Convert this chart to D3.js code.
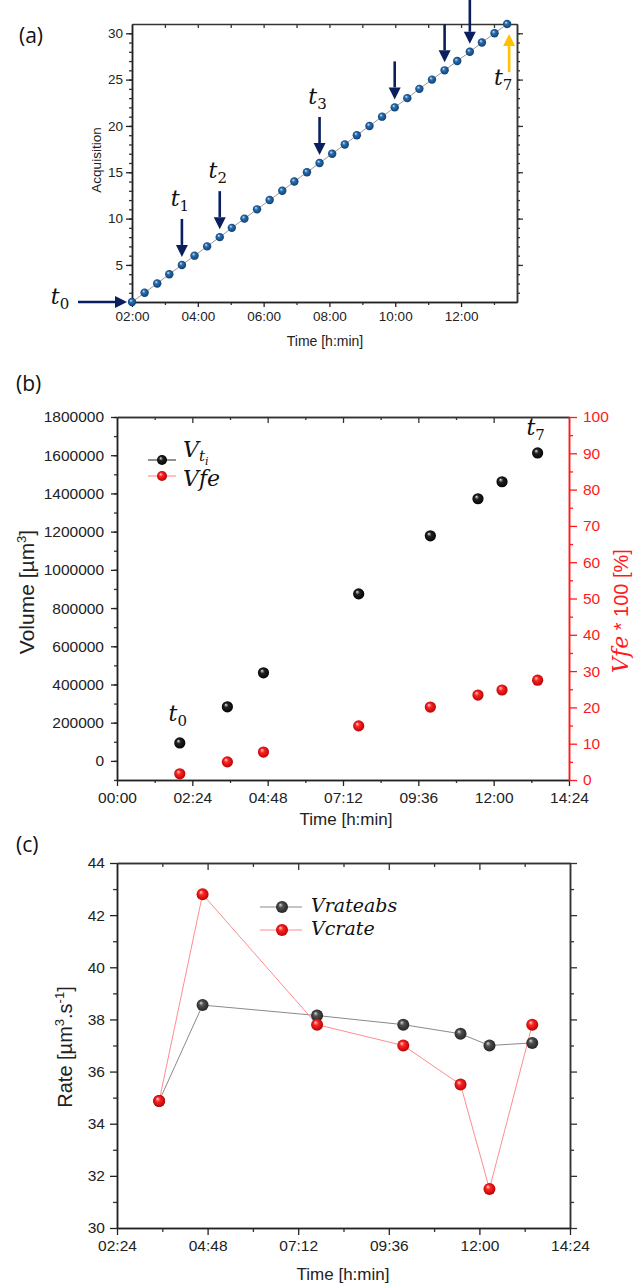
<!DOCTYPE html>
<html><head><meta charset="utf-8">
<script src="https://cdn.jsdelivr.net/npm/d3@7"></script>
<style>body{margin:0;background:#fff}svg text{font-family:"Liberation Sans",Arial,sans-serif}svg .m{font-family:"DejaVu Serif",serif;font-style:italic}</style>
</head><body><svg id="c" width="636" height="1285"></svg>
<script>
// ---------- DATA ----------
const acqTimes = ["02:00","02:23","02:46","03:08","03:31","03:54","04:17","04:40","05:02","05:25",
  "05:48","06:11","06:34","06:56","07:19","07:42","08:05","08:28","08:50","09:13",
  "09:36","09:59","10:22","10:44","11:07","11:30","11:53","12:16","12:38","13:01","13:24"];
const acqValues = [1,2,3,4,5,6,7,8,9,10,11,12,13,14,15,16,17,18,19,20,21,22,23,24,25,26,27,28,29,30,31];
const xTicksA = ["02:00","04:00","06:00","08:00","10:00","12:00"];
const yTicksA = [5,10,15,20,25,30];

const volTimes = ["02:00","03:31","04:40","07:42","09:59","11:30","12:16","13:24"];
const volValues = [94000,283000,461000,874000,1178000,1372000,1461000,1612000];
const vfeValues = [1.7,5.0,7.7,14.9,20.1,23.4,24.8,27.5];
const xTicksB = ["00:00","02:24","04:48","07:12","09:36","12:00","14:24"];
const yTicksB = [0,200000,400000,600000,800000,1000000,1200000,1400000,1600000,1800000];
const yTicksBR = [0,10,20,30,40,50,60,70,80,90,100];

const rateTimes = ["03:31","04:40","07:42","09:59","11:30","12:16","13:24"];
const vrateabs = [34.87,38.55,38.15,37.8,37.45,37.0,37.1];
const vcrate = [34.87,42.8,37.8,37.0,35.5,31.5,37.8];
const xTicksC = ["02:24","04:48","07:12","09:36","12:00","14:24"];
const yTicksC = [30,32,34,36,38,40,42,44];

// ---------- HELPERS ----------
const tm = s => { const [h,m] = s.split(":").map(Number); return h*60+m; };
const fmt = v => { const h = Math.floor(v/60), m = Math.round(v%60); return String(h).padStart(2,"0")+":"+String(m).padStart(2,"0"); };
const svg = d3.select("#c");
const defs = svg.append("defs");
function grad(id, hi, base, dark){
  const g = defs.append("radialGradient").attr("id",id).attr("cx","50%").attr("cy","50%").attr("r","55%").attr("fx","35%").attr("fy","30%");
  g.append("stop").attr("offset","0%").attr("stop-color",hi);
  g.append("stop").attr("offset","35%").attr("stop-color",base);
  g.append("stop").attr("offset","100%").attr("stop-color",dark);
}
grad("gBlue","#d6ebff","#2a6fb0","#0b3a6a");
grad("gBlack","#e8e8e8","#222","#000");
grad("gRed","#ffd6d6","#ff2424","#b00000");
grad("gGray","#d8d8d8","#505050","#202020");

function axis(gen, tx, ty, color, fs){
  const a = svg.append("g").attr("transform",`translate(${tx},${ty})`).call(gen);
  a.select(".domain").attr("stroke",color).attr("stroke-width",1.5);
  a.selectAll(".tick line").attr("stroke",color).attr("stroke-width",1.3);
  a.selectAll(".tick text").attr("fill",color).attr("font-size",fs);
  return a;
}
function arrow(x1,y1,x2,y2,color){
  const ang = Math.atan2(y2-y1,x2-x1), hl = 12, hw = 6;
  const bx = x2 - hl*Math.cos(ang), by = y2 - hl*Math.sin(ang);
  svg.append("line").attr("x1",x1).attr("y1",y1).attr("x2",bx).attr("y2",by).attr("stroke",color).attr("stroke-width",2.6);
  svg.append("path").attr("d",`M${x2},${y2}L${bx+hw*Math.sin(ang)},${by-hw*Math.cos(ang)}L${bx-hw*Math.sin(ang)},${by+hw*Math.cos(ang)}Z`).attr("fill",color);
}
function tlabel(x,y,sub){
  const t = svg.append("text").attr("class","m").attr("x",x).attr("y",y).attr("text-anchor","middle").attr("fill","#111").attr("font-size",22);
  t.append("tspan").text("t");
  t.append("tspan").attr("font-size",15).attr("dy",5).style("font-style","normal").text(sub);
}
function panelLabel(x,y,s){
  svg.append("text").attr("x",x).attr("y",y).attr("font-size",21).style("font-family","Open Sans, sans-serif").attr("fill","#111").text(s);
}
const AX = "#333";

// ---------- PANEL A ----------
panelLabel(19,43,"(a)");
const xA = d3.scaleLinear().domain([120,822]).range([132,517]);
const yA = d3.scaleLinear().domain([1,31]).range([302,24]);
axis(d3.axisTop(xA).tickValues(d3.range(180,822,60)).tickSize(-4).tickSizeOuter(0).tickFormat(""),0,24,AX,0);
axis(d3.axisRight(yA).tickValues(d3.range(2,31,1)).tickSize(3).tickSizeOuter(0).tickFormat(""),517,0,AX,0);
axis(d3.axisRight(yA).tickValues(yTicksA).tickSize(6).tickSizeOuter(0).tickFormat(""),517,0,AX,0);
axis(d3.axisBottom(xA).tickValues(d3.range(180,822,120)).tickSize(3).tickSizeOuter(0).tickFormat(""),0,302,AX,0);
axis(d3.axisBottom(xA).tickValues(xTicksA.map(tm)).tickSize(5).tickPadding(4).tickSizeOuter(0).tickFormat(fmt),0,302,"#222",13.5);
axis(d3.axisLeft(yA).tickValues(d3.range(2,31,1)).tickSize(3).tickSizeOuter(0).tickFormat(""),132,0,AX,0);
axis(d3.axisLeft(yA).tickValues(yTicksA).tickSize(6).tickPadding(3).tickSizeOuter(0),132,0,"#222",13.5);
svg.append("text").attr("transform","translate(101,160) rotate(-90)").attr("text-anchor","middle").attr("font-size",13.5).attr("fill","#222").text("Acquisition");
svg.append("text").attr("x",325).attr("y",346).attr("text-anchor","middle").attr("font-size",14).attr("fill","#222").text("Time [h:min]");
const ptsA = acqTimes.map((t,i)=>[xA(tm(t)), yA(acqValues[i])]);
svg.append("path").attr("d",d3.line()(ptsA)).attr("fill","none").attr("stroke","#9a9a9a").attr("stroke-width",1);
svg.selectAll(".pa").data(ptsA).join("circle").attr("cx",d=>d[0]).attr("cy",d=>d[1]).attr("r",4.2).attr("fill","url(#gBlue)");
// arrows
const NAVY = "#0b1f5e";
const arrowsA = [{i:4,lab:"1"},{i:7,lab:"2"},{i:15,lab:"3"},{i:21},{i:25},{i:27,len:46}];
arrowsA.forEach(a=>{
  const [px,py] = ptsA[a.i]; const len = a.len||38;
  arrow(px, py-8-len, px, py-8, NAVY);
  if(a.lab) tlabel(px-2, py-8-len-13, a.lab);
});
arrow(78, ptsA[0][1], ptsA[0][0]-5, ptsA[0][1], NAVY);
tlabel(60, ptsA[0][1]+2, "0");
{ const [px,py] = ptsA[30]; arrow(px+2, py+48, px+2, py+10, "#ffc000"); tlabel(px-4, py+61, "7"); }

// ---------- PANEL B ----------
panelLabel(16,391,"(b)");
const xB = d3.scaleLinear().domain([0,864]).range([117,569]);
const yB = d3.scaleLinear().domain([-100000,1800000]).range([780,417]);
const yBR = d3.scaleLinear().domain([0,100]).range([780,417]);
const RED = "#ff1a1a";
axis(d3.axisTop(xB).tickValues(d3.range(72,864,144)).tickSize(-3).tickSizeOuter(0).tickFormat(""),0,417,AX,0);
axis(d3.axisTop(xB).tickValues(d3.range(144,864,144)).tickSize(-6).tickSizeOuter(0).tickFormat(""),0,417,AX,0);
axis(d3.axisBottom(xB).tickValues(d3.range(72,864,144)).tickSize(3).tickSizeOuter(0).tickFormat(""),0,780,AX,0);
axis(d3.axisBottom(xB).tickValues(xTicksB.map(tm)).tickSize(6).tickPadding(6).tickSizeOuter(0).tickFormat(fmt),0,780,"#222",15.5);
axis(d3.axisLeft(yB).tickValues(d3.range(-100000,1800001,100000)).tickSize(3).tickSizeOuter(0).tickFormat(""),117,0,AX,0);
axis(d3.axisLeft(yB).tickValues(yTicksB).tickSize(6).tickPadding(7).tickSizeOuter(0).tickFormat(d3.format("d")),117,0,"#222",15.5);
axis(d3.axisRight(yBR).tickValues(d3.range(5,100,10)).tickSize(4).tickSizeOuter(0).tickFormat(""),569,0,RED,0);
axis(d3.axisRight(yBR).tickValues(yTicksBR).tickSize(8).tickPadding(6).tickSizeOuter(0),569,0,RED,15.5);
{
  const t = svg.append("text").attr("transform","translate(34,592) rotate(-90)").attr("text-anchor","middle").attr("font-size",21).attr("fill","#222");
  t.append("tspan").text("Volume [µm");
  t.append("tspan").attr("font-size",13).attr("dy",-8).text("3");
  t.append("tspan").attr("dy",8).text("]");
  const r = svg.append("text").attr("transform","translate(628,611) rotate(-90)").attr("text-anchor","middle").attr("font-size",20).attr("fill",RED);
  r.append("tspan").attr("class","m").attr("font-size",22).text("Vfe");
  r.append("tspan").text(" * 100 [%]");
}
svg.append("text").attr("x",346).attr("y",825).attr("text-anchor","middle").attr("font-size",17).attr("fill","#222").text("Time [h:min]");
svg.selectAll(".pb1").data(volTimes).join("circle").attr("cx",d=>xB(tm(d))).attr("cy",(d,i)=>yB(volValues[i])).attr("r",5.6).attr("fill","url(#gBlack)");
svg.selectAll(".pb2").data(volTimes).join("circle").attr("cx",d=>xB(tm(d))).attr("cy",(d,i)=>yBR(vfeValues[i])).attr("r",5.6).attr("fill","url(#gRed)");
tlabel(xB(tm(volTimes[0]))-2, yB(volValues[0])-22, "0");
tlabel(xB(tm(volTimes[7]))-2, yB(volValues[7])-18, "7");
// legend B
svg.append("line").attr("x1",148).attr("x2",176).attr("y1",460).attr("y2",460).attr("stroke","#222").attr("stroke-width",1);
svg.append("circle").attr("cx",162).attr("cy",460).attr("r",5).attr("fill","url(#gBlack)");
svg.append("line").attr("x1",148).attr("x2",176).attr("y1",476).attr("y2",476).attr("stroke","#ff8080").attr("stroke-width",1);
svg.append("circle").attr("cx",162).attr("cy",476).attr("r",5).attr("fill","url(#gRed)");
{
  const t = svg.append("text").attr("class","m").attr("x",183).attr("y",457).attr("fill","#111").attr("font-size",22);
  t.append("tspan").text("V");
  t.append("tspan").attr("font-size",15).attr("dy",4).text("t");
  t.append("tspan").attr("font-size",11).attr("dy",4).text("i");
  svg.append("text").attr("class","m").attr("x",183).attr("y",486).attr("fill","#111").attr("font-size",22).text("Vfe");
}

// ---------- PANEL C ----------
panelLabel(16,852,"(c)");
const xC = d3.scaleLinear().domain([144,864]).range([117,570]);
const yC = d3.scaleLinear().domain([30,44]).range([1228,863]);
axis(d3.axisTop(xC).tickValues(d3.range(216,864,144)).tickSize(-4).tickSizeOuter(0).tickFormat(""),0,863,AX,0);
axis(d3.axisTop(xC).tickValues(d3.range(288,864,144)).tickSize(-7).tickSizeOuter(0).tickFormat(""),0,863,AX,0);
axis(d3.axisRight(yC).tickValues(d3.range(31,44,2)).tickSize(4).tickSizeOuter(0).tickFormat(""),570,0,AX,0);
axis(d3.axisRight(yC).tickValues(yTicksC).tickSize(7).tickSizeOuter(0).tickFormat(""),570,0,AX,0);
axis(d3.axisBottom(xC).tickValues(d3.range(216,864,144)).tickSize(4).tickSizeOuter(0).tickFormat(""),0,1228,AX,0);
axis(d3.axisBottom(xC).tickValues(xTicksC.map(tm)).tickSize(7).tickPadding(5).tickSizeOuter(0).tickFormat(fmt),0,1228,"#222",15.5);
axis(d3.axisLeft(yC).tickValues(d3.range(31,44,2)).tickSize(4).tickSizeOuter(0).tickFormat(""),117,0,AX,0);
axis(d3.axisLeft(yC).tickValues(yTicksC).tickSize(7).tickPadding(5).tickSizeOuter(0),117,0,"#222",15.5);
{
  const t = svg.append("text").attr("transform","translate(72,1047) rotate(-90)").attr("text-anchor","middle").attr("font-size",20).attr("fill","#222");
  t.append("tspan").text("Rate [µm");
  t.append("tspan").attr("font-size",13).attr("dy",-8).text("3");
  t.append("tspan").attr("dy",8).text(".s");
  t.append("tspan").attr("font-size",13).attr("dy",-8).text("-1");
  t.append("tspan").attr("dy",8).text("]");
}
svg.append("text").attr("x",343).attr("y",1280).attr("text-anchor","middle").attr("font-size",17).attr("fill","#222").text("Time [h:min]");
const lineC = d3.line().x(d=>d[0]).y(d=>d[1]);
const ptsAbs = rateTimes.map((t,i)=>[xC(tm(t)), yC(vrateabs[i])]);
const ptsCr = rateTimes.map((t,i)=>[xC(tm(t)), yC(vcrate[i])]);
svg.append("path").attr("d",lineC(ptsAbs)).attr("fill","none").attr("stroke","#8a8a8a").attr("stroke-width",1);
svg.append("path").attr("d",lineC(ptsCr)).attr("fill","none").attr("stroke","#ff8c8c").attr("stroke-width",1);
svg.selectAll(".pc1").data(ptsAbs).join("circle").attr("cx",d=>d[0]).attr("cy",d=>d[1]).attr("r",6).attr("fill","url(#gGray)");
svg.selectAll(".pc2").data(ptsCr).join("circle").attr("cx",d=>d[0]).attr("cy",d=>d[1]).attr("r",6).attr("fill","url(#gRed)");
// legend C
svg.append("line").attr("x1",260).attr("x2",302).attr("y1",907).attr("y2",907).attr("stroke","#8a8a8a").attr("stroke-width",1);
svg.append("circle").attr("cx",282).attr("cy",907).attr("r",6).attr("fill","url(#gGray)");
svg.append("line").attr("x1",260).attr("x2",302).attr("y1",930).attr("y2",930).attr("stroke","#ff8c8c").attr("stroke-width",1);
svg.append("circle").attr("cx",282).attr("cy",930).attr("r",6).attr("fill","url(#gRed)");
svg.append("text").attr("class","m").attr("x",311).attr("y",912).attr("fill","#111").attr("font-size",19).text("Vrateabs");
svg.append("text").attr("class","m").attr("x",311).attr("y",935).attr("fill","#111").attr("font-size",19).text("Vcrate");
</script></body></html>
